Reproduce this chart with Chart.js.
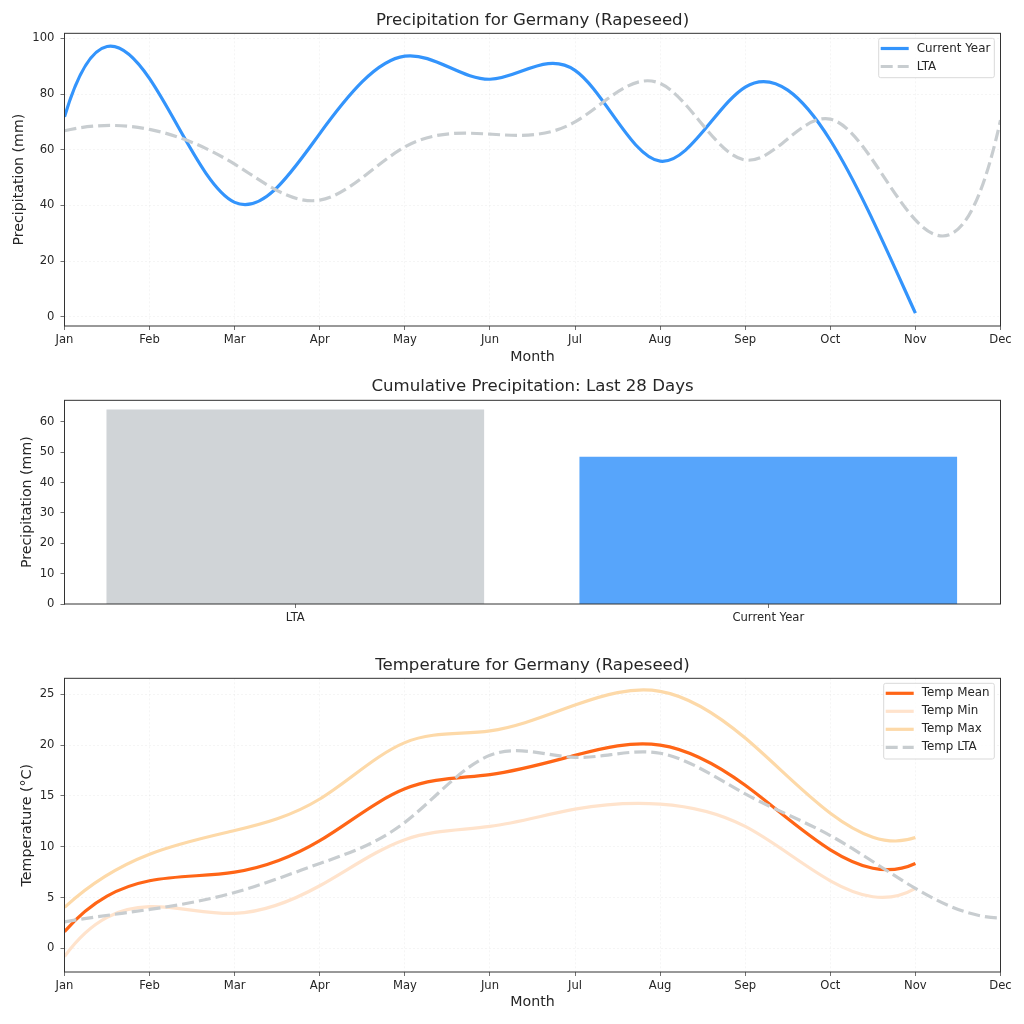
<!DOCTYPE html>
<html>
<head>
<meta charset="utf-8">
<script src="https://cdn.jsdelivr.net/npm/chart.js@4"></script>
<style>
  body { margin: 0; background: #fff; }
  canvas { position: absolute; left: 0; }
</style>
</head>
<body>
<canvas id="precip" width="1024" height="370" style="top:0"></canvas>
<canvas id="cumul" width="1024" height="270" style="top:370px"></canvas>
<canvas id="temp" width="1024" height="384" style="top:640px"></canvas>
<script>
const months = ["Jan", "Feb", "Mar", "Apr", "May", "Jun", "Jul", "Aug", "Sep", "Oct", "Nov", "Dec"];
const monthTicks = [0, 1, 2, 3, 4, 5, 6, 7, 8, 9, 10, 11];

// Monthly values
const precipCurrent = [71.8, 85.5, 41.1, 65.8, 93.6, 85.3, 88.5, 55.9, 82.5, 63.4, 1.3];
const precipLta = [66.8, 67.3, 54.8, 41.9, 61, 65.6, 70, 83.8, 56.3, 71, 34.8, 70.6];
const precipTicks = [0, 20, 40, 60, 80, 100];

const barLabels = ["LTA", "Current Year"];
const barValues = [64, 48.4];
const barTicks = [0, 10, 20, 30, 40, 50, 60];

const tempMean = [1.64, 6.65, 7.5, 10.6, 15.7, 17.1, 19, 20, 16.05, 9.7, 8.35];
const tempMin = [-0.8, 4.1, 3.44, 6.16, 10.7, 12, 13.7, 14.2, 12, 6.65, 5.9];
const tempMax = [4.03, 9.27, 11.6, 14.7, 20.25, 21.4, 23.95, 25.3, 20.7, 13.3, 10.9];
const tempLta = [2.6, 3.83, 5.5, 8.35, 12.4, 19, 18.8, 19.2, 15.2, 11.1, 5.9, 3];
const tempTicks = [0, 5, 10, 15, 20, 25];

const FONT = "'DejaVu Sans'";
const INK = "#262626";
const GRID = "rgba(0,0,0,0.06)";

Chart.defaults.font.family = FONT;
Chart.defaults.color = INK;

// Fixes the plot box, so the axes sit where the picture has them
function fixed(scale, size) {
  if (scale.isHorizontal()) scale.height = size;
  else scale.width = size;
  scale.paddingTop = scale.paddingBottom = scale.paddingLeft = scale.paddingRight = 0;
}

function line(label, values, color, order, dashed) {
  return {
    label,
    data: values.map((y, i) => ({ x: i, y })),
    borderColor: color,
    borderWidth: 3.2,
    borderDash: dashed ? [12, 5] : [],
    pointRadius: 0,
    tension: 0.4,
    order
  };
}

// Slopes of a not-a-knot cubic spline through evenly spaced ys
function splineSlopes(ys) {
  const n = ys.length;
  const d = i => ys[i + 1] - ys[i];
  const rows = [];
  for (let i = 0; i < n; i++) {
    const row = new Array(n + 1).fill(0);
    if (i === 0) {
      row[0] = 1; row[2] = -1; row[n] = 2 * (d(0) - d(1));
    } else if (i === n - 1) {
      row[n - 3] = 1; row[n - 1] = -1; row[n] = 2 * (d(n - 3) - d(n - 2));
    } else {
      row[i - 1] = 1; row[i] = 4; row[i + 1] = 1; row[n] = 3 * (ys[i + 1] - ys[i - 1]);
    }
    rows.push(row);
  }
  for (let c = 0; c < n; c++) {
    let p = c;
    for (let r = c + 1; r < n; r++) if (Math.abs(rows[r][c]) > Math.abs(rows[p][c])) p = r;
    [rows[c], rows[p]] = [rows[p], rows[c]];
    for (let r = 0; r < n; r++) {
      if (r === c) continue;
      const f = rows[r][c] / rows[c][c];
      for (let k = c; k <= n; k++) rows[r][k] -= f * rows[c][k];
    }
  }
  return rows.map((row, i) => row[n] / row[i]);
}

// Replaces Chart.js' own control points, the line goes through the same data points
const splinePlugin = {
  id: "spline",
  beforeDatasetsDraw(chart) {
    chart.data.datasets.forEach((d, i) => {
      const meta = chart.getDatasetMeta(i);
      const pts = meta.data;
      const h = (pts[1].x - pts[0].x) / 3;
      const slopes = splineSlopes(pts.map(p => p.y));
      pts.forEach((p, k) => {
        p.cp1x = p.x - h;
        p.cp1y = p.y - slopes[k] / 3;
        p.cp2x = p.x + h;
        p.cp2y = p.y + slopes[k] / 3;
      });
      meta.dataset._pointsUpdated = true;
    });
  }
};

// Box around the plot, and a matplotlib style legend inside its top right corner
function framePlugin(legend) {
  return {
    id: "frame",
    afterDraw(chart) {
      const ctx = chart.ctx;
      const a = chart.chartArea;
      ctx.save();
      ctx.strokeStyle = "#333";
      ctx.lineWidth = 1;
      ctx.strokeRect(a.left, a.top, a.right - a.left, a.bottom - a.top);
      if (legend) {
        ctx.fillStyle = "rgba(255,255,255,0.8)";
        ctx.strokeStyle = "#d9d9d9";
        ctx.beginPath();
        ctx.roundRect(legend.x, legend.y, legend.w, legend.h, 2);
        ctx.fill();
        ctx.stroke();
        ctx.font = "11.9px " + FONT;
        ctx.textBaseline = "middle";
        chart.data.datasets.forEach((d, i) => {
          const y = legend.y + legend.first + i * 18;
          ctx.strokeStyle = d.borderColor;
          ctx.lineWidth = d.borderWidth;
          ctx.setLineDash(d.borderDash);
          ctx.beginPath();
          ctx.moveTo(legend.x + 2, y);
          ctx.lineTo(legend.x + 30, y);
          ctx.stroke();
          ctx.setLineDash([]);
          ctx.fillStyle = INK;
          ctx.fillText(d.label, legend.x + 38, y);
        });
      }
      ctx.restore();
    }
  };
}

function options(o) {
  return {
    responsive: false,
    animation: false,
    events: [],
    layout: { padding: { right: 23.5 } },
    plugins: {
      legend: { display: false },
      tooltip: { enabled: false },
      title: {
        display: true,
        text: o.title,
        fullSize: false,
        font: { size: 16.6, weight: "normal" },
        color: INK,
        padding: o.titlePad
      }
    },
    scales: {
      x: {
        type: "linear",
        offset: false,
        min: o.xMin,
        max: o.xMax,
        afterFit: s => fixed(s, o.xHeight),
        afterBuildTicks: s => { s.ticks = o.xTicks.map(value => ({ value })); },
        grid: { offset: false, drawOnChartArea: o.grid, color: GRID, lineWidth: 0.7, tickColor: "#333", tickLength: 4, tickBorderDash: [] },
        border: { display: false, dash: [2, 2] },
        ticks: { autoSkip: false, maxRotation: 0, padding: 3, font: { size: 11.6 }, callback: o.xLabel },
        title: { display: !!o.xTitle, text: o.xTitle, font: { size: 14.2 }, color: INK, padding: { top: 0, bottom: o.xTitlePad } }
      },
      y: {
        min: o.yMin,
        max: o.yMax,
        afterFit: s => fixed(s, 64.5),
        afterBuildTicks: s => { s.ticks = o.yTicks.map(value => ({ value })); },
        grid: { drawOnChartArea: o.grid, color: GRID, lineWidth: 0.7, tickColor: "#333", tickLength: 4, tickBorderDash: [] },
        border: { display: false, dash: [2, 2] },
        ticks: { padding: 6, font: { size: 11.6 } },
        title: { display: true, text: o.yTitle, font: { size: 14.2 }, color: INK, padding: { top: o.yTitlePad, bottom: 0 } }
      }
    }
  };
}

new Chart(document.getElementById("precip"), {
  type: "line",
  data: {
    datasets: [
      line("Current Year", precipCurrent, "#3394fc", 2, false),
      line("LTA", precipLta, "#c8cdd0", 1, true)
    ]
  },
  options: options({
    title: "Precipitation for Germany (Rapeseed)",
    titlePad: { top: 10.4, bottom: 3 },
    xMin: 0, xMax: 11, xTicks: monthTicks, xHeight: 44,
    xLabel: v => months[v],
    xTitle: "Month", xTitlePad: 4,
    yMin: -3.3, yMax: 101.8, yTicks: precipTicks,
    yTitle: "Precipitation (mm)", yTitlePad: 10.6,
    grid: true
  }),
  plugins: [splinePlugin, framePlugin({ x: 878.7, y: 38.3, w: 115.6, h: 39.4, first: 10.2 })]
});

new Chart(document.getElementById("cumul"), {
  type: "bar",
  data: {
    datasets: [{
      data: barValues.map((y, i) => ({ x: i, y })),
      backgroundColor: ["#d0d4d7", "#57a5fb"],
      barThickness: 377
    }]
  },
  options: options({
    title: "Cumulative Precipitation: Last 28 Days",
    titlePad: { top: 6.4, bottom: 4 },
    xMin: -0.488, xMax: 1.491, xTicks: [0, 1], xHeight: 36,
    xLabel: v => barLabels[v],
    yMin: 0, yMax: 67.1, yTicks: barTicks,
    yTitle: "Precipitation (mm)", yTitlePad: 18.6,
    grid: false
  }),
  plugins: [framePlugin(null)]
});

new Chart(document.getElementById("temp"), {
  type: "line",
  data: {
    datasets: [
      line("Temp Mean", tempMean, "#ff6516", 4, false),
      line("Temp Min", tempMin, "#ffe3cc", 3, false),
      line("Temp Max", tempMax, "#fdd9a8", 2, false),
      line("Temp LTA", tempLta, "#c8cdd0", 1, true)
    ]
  },
  options: options({
    title: "Temperature for Germany (Rapeseed)",
    titlePad: { top: 15.4, bottom: 3 },
    xMin: 0, xMax: 11, xTicks: monthTicks, xHeight: 52,
    xLabel: v => months[v],
    xTitle: "Month", xTitlePad: 13,
    yMin: -2.33, yMax: 26.58, yTicks: tempTicks,
    yTitle: "Temperature (°C)", yTitlePad: 18.6,
    grid: true
  }),
  plugins: [splinePlugin, framePlugin({ x: 883.7, y: 43.3, w: 110.6, h: 75.7, first: 10 })]
});
</script>
</body>
</html>
